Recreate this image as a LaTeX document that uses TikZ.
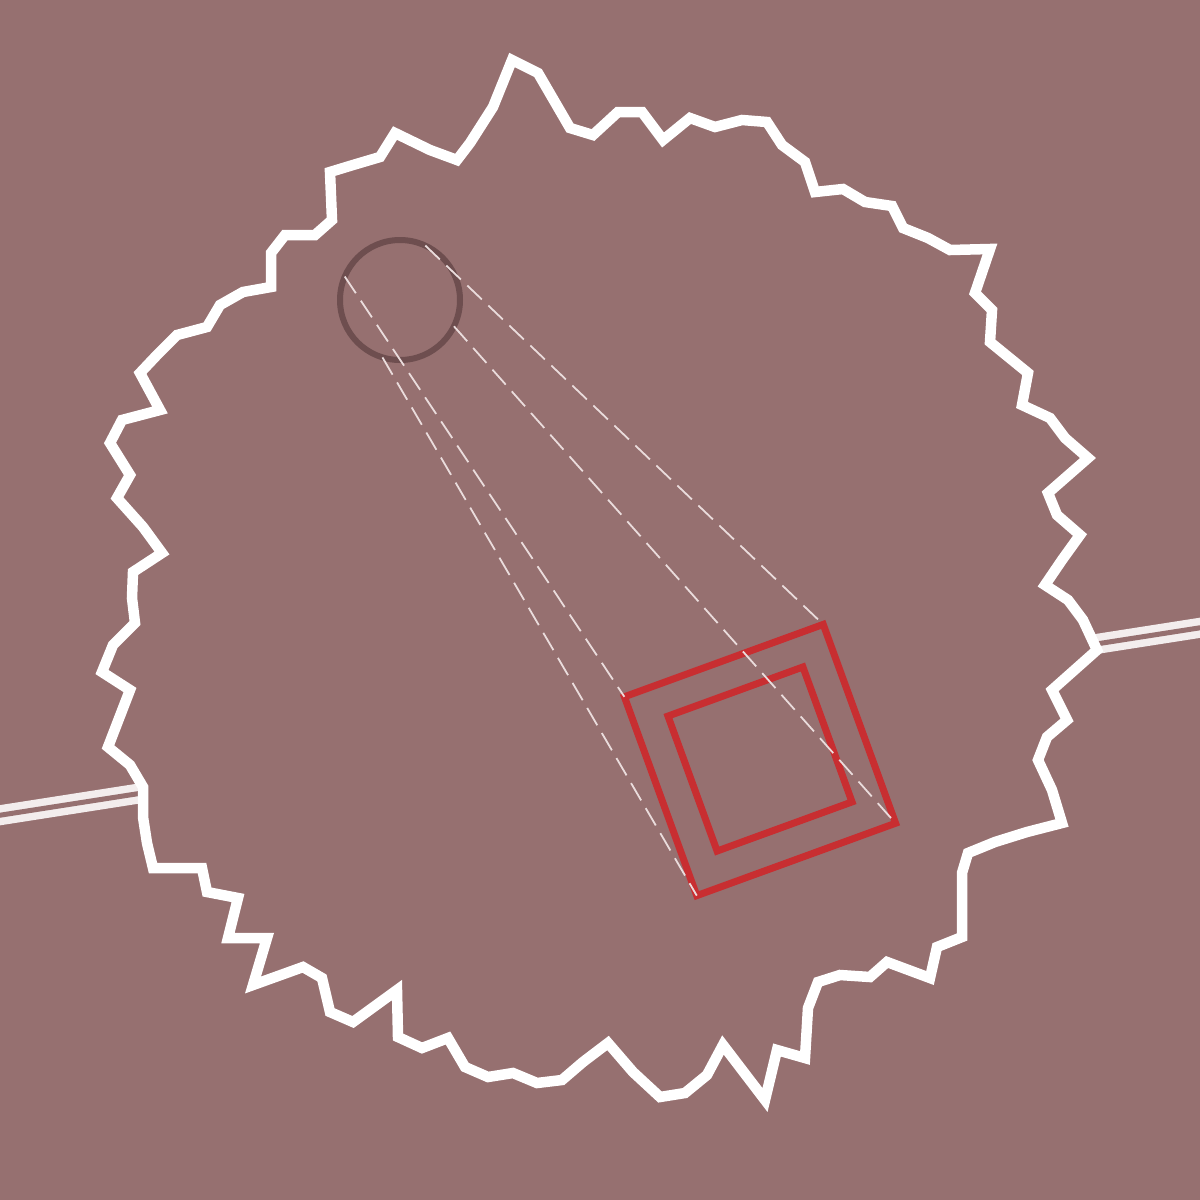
\documentclass[tikz,border=0pt]{standalone}
\definecolor{bg}{HTML}{967070}
\definecolor{sqred}{HTML}{C82E31}
\definecolor{circcol}{HTML}{6E4E4F}
\definecolor{raycol}{HTML}{EADCDC}
\definecolor{axcol}{HTML}{F3EDED}
\begin{document}
\begin{tikzpicture}[x=1pt,y=-1pt,
  rim/.style={draw=white,fill=bg,line width=10.5pt,line join=miter},
  redsq/.style={rectangle,draw=sqred,line width=7pt,inner sep=0pt,outer sep=0pt,rotate=20},
  ray/.style={draw=raycol,line width=1.8pt,dash pattern=on 20pt off 9pt},
  axisline/.style={draw=axcol,line width=7.5pt,double=bg,double distance=5pt},
  lens/.style={circle,draw=circcol,line width=6pt,minimum size=120pt,inner sep=0pt,outer sep=0pt}]
\fill[bg] (0,0) rectangle (1200,1200);
\useasboundingbox (0,0) rectangle (1200,1200);
\coordinate (axL) at (-5,816);
\coordinate (axR) at (1205,627);
\draw[axisline] (axL) -- (axR);
\path[rim] (512,60) -- (538,73) -- (570,128) -- (593,135) -- (618,112) -- (642,112) -- (663,140) -- (690,118) -- (715,127) -- (742,120) -- (767,122) -- (782,145) -- (805,162) -- (815,192) -- (843,189) -- (865,202) -- (892,206) -- (903,228) -- (928,238) -- (950,250) -- (990,249) -- (975,293) -- (992,310) -- (990,342) -- (1028,373) -- (1022,405) -- (1050,418) -- (1065,438) -- (1088,458) -- (1048,493) -- (1057,515) -- (1080,535) -- (1062,560) -- (1045,585) -- (1068,600) -- (1083,620) -- (1097,650) -- (1052,690) -- (1067,720) -- (1047,737) -- (1038,760) -- (1052,790) -- (1062,823) -- (1027,832) -- (995,842) -- (968,853) -- (962,873) -- (962,937) -- (937,947) -- (930,978) -- (887,962) -- (870,977) -- (840,975) -- (818,982) -- (808,1008) -- (805,1058) -- (777,1050) -- (765,1100) -- (723,1045) -- (707,1075) -- (685,1093) -- (660,1097) -- (633,1072) -- (608,1043) -- (583,1062) -- (562,1080) -- (537,1083) -- (513,1073) -- (488,1077) -- (465,1067) -- (448,1038) -- (422,1048) -- (398,1037) -- (397,990) -- (353,1022) -- (330,1012) -- (322,978) -- (303,967) -- (253,985) -- (267,938) -- (228,938) -- (238,898) -- (207,892) -- (202,868) -- (153,868) -- (147,843) -- (143,817) -- (143,787) -- (130,765) -- (108,747) -- (130,690) -- (102,672) -- (113,645) -- (135,623) -- (132,598) -- (133,572) -- (162,553) -- (143,527) -- (117,498) -- (130,475) -- (110,443) -- (122,420) -- (160,410) -- (140,373) -- (157,355) -- (177,335) -- (207,327) -- (220,305) -- (243,292) -- (271,287) -- (271,253) -- (285,235) -- (315,235) -- (332,220) -- (330,172) -- (353,165) -- (380,157) -- (395,133) -- (430,150) -- (457,160) -- (470,143) -- (493,107) -- cycle;
\node[lens] (circ) at (400,300) {};
\node[redsq,minimum size=211.6pt] (sqo) at (760,760) {};
\node[redsq,minimum size=143.6pt] (sqi) at (760,759) {};
\draw[ray] (circ.157) -- (sqo.north west);
\draw[ray] (circ.65.6) -- (sqo.north east);
\draw[ray] (circ.-26) -- (sqo.south east);
\draw[ray] (circ.-107.6) -- (sqo.south west);
\end{tikzpicture}
\end{document}
